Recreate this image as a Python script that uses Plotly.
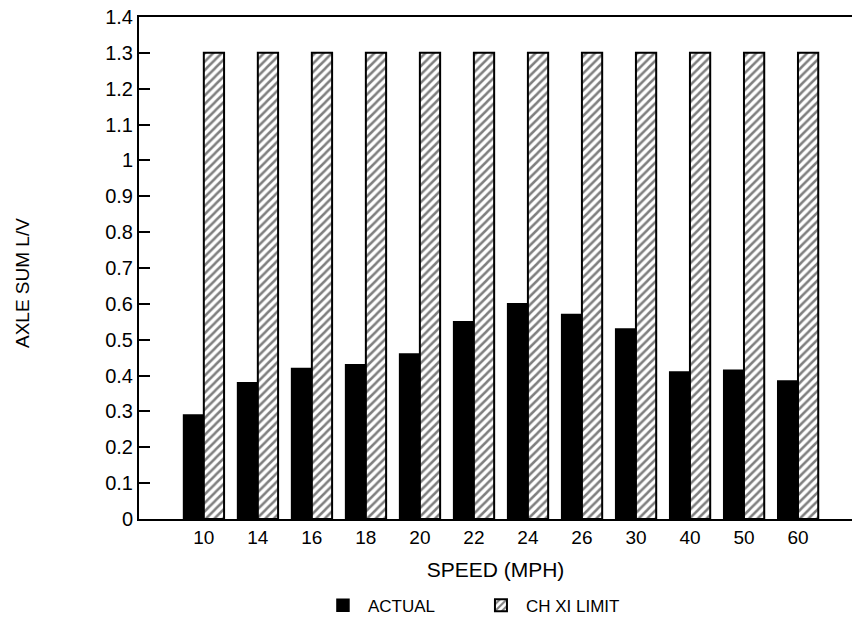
import plotly.graph_objects as go

speeds = ["10", "14", "16", "18", "20", "22", "24", "26", "30", "40", "50", "60"]
actual = [0.29, 0.38, 0.42, 0.43, 0.46, 0.55, 0.60, 0.57, 0.53, 0.41, 0.415, 0.385]
limit = [1.30] * len(speeds)
y_ticks = [0, 0.1, 0.2, 0.3, 0.4, 0.5, 0.6, 0.7, 0.8, 0.9, 1, 1.1, 1.2, 1.3, 1.4]
y_tick_text = ["0", "0.1", "0.2", "0.3", "0.4", "0.5", "0.6", "0.7", "0.8", "0.9", "1", "1.1", "1.2", "1.3", "1.4"]

pos = list(range(len(speeds)))
FONT = "Liberation Sans, Arial, sans-serif"

fig = go.Figure()
fig.add_trace(go.Bar(
    x=pos, y=actual, name="ACTUAL",
    marker=dict(color="black", line=dict(color="black", width=1.5)),
))
fig.add_trace(go.Bar(
    x=pos, y=limit, name="CH XI LIMIT",
    marker=dict(color="white", line=dict(color="black", width=2),
                pattern=dict(shape="/", fgcolor="black", bgcolor="white", size=6, solidity=0.42)),
))

fig.update_layout(
    width=854, height=625,
    margin=dict(l=139, r=2, t=17, b=106, autoexpand=False),
    paper_bgcolor="white", plot_bgcolor="white",
    barmode="group", bargap=0.25, bargroupgap=0,
    font=dict(family=FONT, size=18, color="black"),
    showlegend=True,
    legend=dict(orientation="h", xref="paper", x=0.251, xanchor="left",
                yref="container", y=0.031, yanchor="middle",
                font=dict(size=17), itemwidth=40, entrywidth=103, traceorder="normal"),
    annotations=[dict(text="AXLE SUM L/V", textangle=-90, showarrow=False,
                      xref="paper", yref="paper", x=(22 - 139) / 713, y=(519 - 283) / 502,
                      xanchor="center", yanchor="middle", font=dict(size=19))],
)
fig.update_xaxes(
    tickmode="array", tickvals=pos, ticktext=speeds,
    range=[-1.2, 12.0], showgrid=False, zeroline=False,
    showline=True, linecolor="black", linewidth=2, mirror=True, ticks="",
    title=dict(text="SPEED (MPH)", font=dict(size=21), standoff=16),
    tickfont=dict(size=19),
)
fig.update_yaxes(
    range=[0, 1.4], tickmode="array", tickvals=y_ticks, ticktext=y_tick_text,
    showgrid=False, zeroline=False,
    showline=True, linecolor="black", linewidth=2,
    ticks="inside", ticklen=11, tickwidth=1.5, tickcolor="black",
    tickfont=dict(size=20),
)
fig.write_html("out.html")
